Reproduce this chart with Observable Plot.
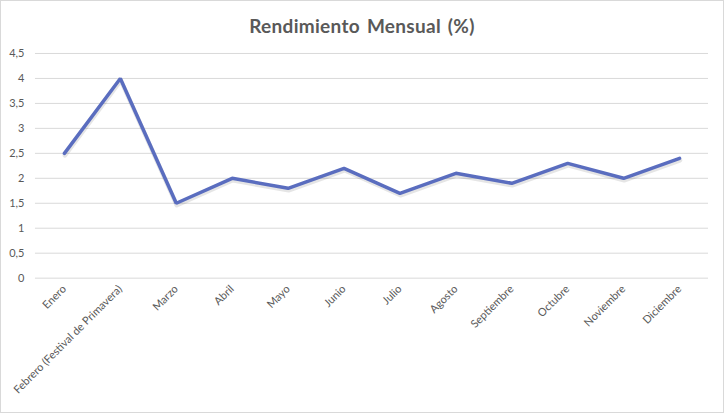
<!DOCTYPE html>
<html>
<head>
<meta charset="utf-8">
<script src="https://cdn.jsdelivr.net/npm/d3@7"></script>
<script src="https://cdn.jsdelivr.net/npm/@observablehq/plot@0.6"></script>
<style>
  html, body { margin: 0; padding: 0; background: #fff; }
  #chart { width: 724px; height: 413px; box-sizing: border-box; border: 1px solid #d9d9d9; position: relative; overflow: hidden; font-family: Lato, "Open Sans", sans-serif; }
  #title { position: absolute; left: 0; top: 0; width: 722px; height: 40px; text-align: center; line-height: 50px; font-size: 19px; font-weight: bold; color: #595959; letter-spacing: 0.3px; word-spacing: 2px; }
  #plot { position: absolute; left: -1px; top: 37px; }
</style>
</head>
<body>
<div id="chart">
  <div id="title">Rendimiento Mensual (%)</div>
  <div id="plot"></div>
</div>
<script>
const months = ["Enero", "Febrero (Festival de Primavera)", "Marzo", "Abril", "Mayo", "Junio", "Julio", "Agosto", "Septiembre", "Octubre", "Noviembre", "Diciembre"];
const values = [2.5, 4, 1.5, 2, 1.8, 2.2, 1.7, 2.1, 1.9, 2.3, 2, 2.4];
const yTicks = [0, 0.5, 1, 1.5, 2, 2.5, 3, 3.5, 4, 4.5];

const data = months.map((m, i) => ({month: m, value: values[i]}));
const fmt = v => String(v).replace(".", ",");

const chart = Plot.plot({
  width: 724,
  height: 376,
  marginTop: 15,
  marginBottom: 136,
  marginLeft: 35,
  marginRight: 15,
  style: {fontFamily: "Lato, 'Open Sans', sans-serif", color: "#595959", background: "transparent"},
  x: {type: "point", domain: months, padding: 0.5, label: null},
  y: {domain: [0, 4.5], ticks: yTicks, label: null},
  marks: [
    Plot.gridY(yTicks, {stroke: "#d9d9d9", strokeOpacity: 1, strokeWidth: 1}),
    Plot.axisY(yTicks, {tickSize: 0, tickPadding: 11, tickFormat: fmt, fontSize: 11, fill: "#595959", label: null}),
    Plot.axisX({tickSize: 0, tickPadding: 9, tickRotate: -45, fontSize: 11, fill: "#595959", label: null}),
    Plot.line(data, {x: "month", y: "value", stroke: "#000", strokeOpacity: 0.1, strokeWidth: 4.5, dx: 0.5, dy: 2, strokeLinejoin: "round", strokeLinecap: "round"}),
    Plot.line(data, {x: "month", y: "value", stroke: "#5a6dbf", strokeWidth: 3.5, strokeLinejoin: "miter", strokeLinecap: "round"})
  ]
});
document.getElementById("plot").appendChild(chart);
</script>
</body>
</html>
